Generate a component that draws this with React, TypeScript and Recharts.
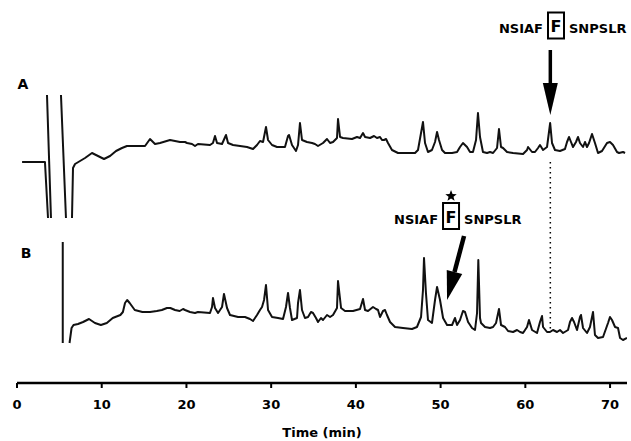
import { LineChart, Line, XAxis, YAxis, ReferenceLine, ReferenceDot } from "recharts";

// Trace A: native peptide digest (null = pen off scale)
const timeA = [
  0.6, 3.3, 3.66, 3.6, 3.54, 4.01, 4.5, 5.19, 5.78, 6.2,
  6.49, 6.61, 6.85, 7.44, 8.03, 8.85, 9.56, 10.27, 10.98, 11.69, 12.39, 12.98, 15.11, 15.7,
  16.29, 16.88, 18.06, 18.65, 19.24, 19.83, 20.07, 20.66, 21.01, 21.36, 22.78, 23.13, 23.37,
  23.61, 24.2, 24.67, 24.91, 25.5, 27.15, 27.86, 28.33, 28.68, 29.04, 29.39, 29.63, 30.1,
  30.69, 31.63, 31.99, 32.11, 32.46, 32.93, 33.17, 33.4, 33.64, 34.23, 34.82, 35.17, 35.53,
  36.12, 36.59, 36.95, 37.3, 37.77, 37.89, 38.13, 38.48, 39.54, 40.13, 40.49, 40.84, 41.08,
  41.67, 42.14, 42.49, 42.85, 43.08, 43.32, 43.56, 43.79, 44.26, 44.97, 46.15, 46.98, 47.33,
  47.92, 48.16, 48.51, 48.98, 49.34, 49.58, 49.81, 50.17, 50.52, 51.35, 51.94, 52.29, 52.64,
  53.12, 53.47, 53.82, 54.18, 54.41, 54.65, 55.0, 55.48, 55.83, 56.19, 56.66, 56.89, 57.13,
  57.37, 57.84, 58.55, 59.73, 60.2, 60.32, 60.79, 61.14, 61.5, 61.73, 62.09, 62.56, 62.93,
  63.15, 63.5, 64.09, 64.68, 64.92, 65.16, 65.39, 65.63, 65.98, 66.22, 66.45, 66.81, 67.04,
  67.28, 67.52, 67.87, 68.22, 68.58, 69.05, 69.64, 69.99, 70.35, 70.82, 71.06, 71.53, 71.77,
];
const signalA = [
  221, 221, 165, null, 288, 165, null, 288, 165, null,
  165, 215, 219, 222, 225, 230, 227, 224, 227, 232, 235, 237, 237, 244,
  239, 240, 243, 242, 241, 241, 240, 239, 237, 239, 238, 240, 247,
  240, 239, 248, 240, 238, 236, 234, 238, 242, 241, 256, 243, 238,
  236, 236, 247, 248, 238, 232, 238, 260, 243, 241, 240, 239, 237,
  240, 244, 240, 241, 245, 264, 246, 245, 244, 246, 245, 250, 246,
  245, 247, 245, 246, 243, 243, 244, 240, 233, 230, 230, 230, 233,
  261, 240, 231, 233, 241, 251, 243, 233, 230, 230, 231, 236, 240,
  236, 231, 231, 243, 270, 246, 231, 230, 231, 230, 235, 254, 236,
  235, 231, 230, 229, 233, 236, 231, 231, 235, 238, 233, 236, 260,
  240, 233, 232, 234, 241, 246, 241, 236, 241, 246, 240, 236, 241,
  236, 240, 249, 240, 230, 232, 240, 241, 238, 231, 230, 231, 230,
];

// Trace B: modified peptide digest
const timeB = [
  5.4, 5.4, 5.8,
  6.2, 6.44, 6.67, 7.2, 7.8, 8.5, 9.2, 9.9, 10.6, 11.3, 12.2, 12.5, 12.75, 13.0, 13.3, 13.9,
  14.8, 15.7, 16.5, 17.1, 17.7, 18.1, 18.65, 19.2, 19.6, 19.83, 20.42, 21.01, 21.36, 22.78,
  23.02, 23.13, 23.37, 23.73, 24.2, 24.43, 24.79, 25.14, 26.09, 26.91, 27.5, 27.86, 28.33,
  28.68, 28.92, 29.16, 29.39, 29.63, 30.1, 30.81, 31.4, 31.75, 31.99, 32.22, 32.46, 33.05,
  33.17, 33.4, 33.64, 33.99, 34.35, 34.7, 34.94, 35.29, 35.53, 35.88, 36.12, 36.59, 36.95,
  37.3, 37.77, 37.89, 38.25, 38.72, 39.66, 40.49, 40.84, 41.08, 41.43, 42.02, 42.38, 42.61,
  42.85, 43.2, 43.44, 43.67, 44.03, 44.62, 45.56, 46.62, 47.21, 47.69, 47.92, 48.04, 48.27,
  48.51, 48.98, 49.34, 49.58, 49.93, 50.29, 50.76, 51.35, 51.7, 51.94, 52.29, 52.64, 52.88,
  53.24, 53.71, 54.06, 54.3, 54.45, 54.65, 54.77, 55.24, 55.83, 56.19, 56.54, 56.89, 57.13,
  57.6, 57.96, 58.55, 59.02, 59.38, 59.73, 60.2, 60.43, 60.79, 61.38, 61.73, 61.97, 62.09,
  62.56, 62.91, 63.27, 63.74, 64.09, 64.45, 65.04, 65.27, 65.51, 65.75, 66.1, 66.45, 66.57,
  66.81, 67.28, 67.63, 67.99, 68.22, 68.58, 69.17, 69.76, 69.99, 70.23, 70.59, 70.94, 71.18,
  71.53, 72.0,
];
const signalB = [
  141, 40, null,
  40, 55, 58, 59, 61, 64, 60, 58, 60, 65, 68, 71, 80, 83, 80, 73,
  71, 71, 72, 73, 75, 75, 73, 72, 74, 73, 71, 70, 71, 70,
  76, 85, 75, 70, 76, 89, 75, 68, 66, 66, 64, 62, 68,
  73, 76, 83, 98, 73, 66, 65, 64, 76, 90, 75, 63, 65,
  80, 93, 73, 65, 66, 71, 70, 65, 61, 65, 63, 68, 66,
  68, 75, 102, 75, 72, 72, 74, 84, 73, 72, 76, 74, 73,
  66, 72, 73, 68, 61, 56, 55, 54, 56, 66, 93, 125, 90,
  63, 60, 83, 96, 83, 65, 58, 58, 65, 58, 63, 72, 71,
  61, 55, 53, 70, 123, 65, 60, 56, 55, 56, 60, 74, 58,
  56, 52, 51, 53, 51, 50, 56, 63, 53, 50, 61, 67, 56,
  51, 51, 53, 51, 53, 50, 53, 61, 65, 61, 53, 66, 68,
  55, 50, 56, 71, 48, 45, 46, 60, 66, 63, 56, 55, 45,
  43, 45,
];

const timeTicks = [0, 10, 20, 30, 40, 50, 60, 70];

const dataA = timeA.map((t, i) => ({ t, v: signalA[i] }));
const dataB = timeB.map((t, i) => ({ t, v: signalB[i] }));

const FONT = "'DejaVu Sans', sans-serif";

const arrow = (dx: number, dy: number, headLen: number, headW: number, shaftW: number) =>
  (props: any) => {
    const { cx, cy } = props;
    const len = Math.hypot(dx, dy);
    const ux = dx / len;
    const uy = dy / len;
    const bx = cx + ux * headLen;
    const by = cy + uy * headLen;
    const px = -uy * headW / 2;
    const py = ux * headW / 2;
    return (
      <g>
        <line x1={bx} y1={by} x2={cx + dx} y2={cy + dy} stroke="#000" strokeWidth={shaftW} />
        <polygon points={`${cx},${cy} ${bx + px},${by + py} ${bx - px},${by - py}`} fill="#000" />
      </g>
    );
  };

const star = (x: number, y: number, R: number, r: number) => {
  const pts: string[] = [];
  for (let k = 0; k < 10; k++) {
    const a = -Math.PI / 2 + (k * Math.PI) / 5;
    const rad = k % 2 === 0 ? R : r;
    pts.push(`${x + rad * Math.cos(a)},${y + rad * Math.sin(a)}`);
  }
  return pts.join(" ");
};

const peptide = (modified: boolean) => (props: any) => {
  const { cx, cy } = props;
  return (
    <g fontFamily={FONT} fontWeight="bold" fill="#000">
      <text x={cx - 13} y={cy + 7.5} fontSize={13} textAnchor="end">NSIAF</text>
      <rect x={cx - 8} y={cy - 13} width={16} height={26} fill="none" stroke="#000" strokeWidth={2} />
      <text x={cx} y={cy + 6.5} fontSize={16} textAnchor="middle">F</text>
      <text x={cx + 13} y={cy + 7.5} fontSize={13} textAnchor="start">SNPSLR</text>
      {modified && <polygon points={star(cx, cy - 20, 6, 2.6)} fill="#000" />}
    </g>
  );
};

const traceLabel = (name: string) => (props: any) => (
  <text x={props.cx} y={props.cy + 5} fontFamily={FONT} fontWeight="bold" fontSize={14} textAnchor="middle">
    {name}
  </text>
);

export default function App() {
  return (
    <div style={{ position: "absolute", left: 0, top: 0, width: 631, height: 441, background: "#fff" }}>
      <LineChart width={631} height={441} margin={{ top: 0, right: 4, left: 17, bottom: 0 }}>
        <XAxis
          type="number"
          dataKey="t"
          domain={[0, 72]}
          ticks={timeTicks}
          allowDataOverflow
          height={58}
          tickSize={5}
          tickMargin={12}
          axisLine={{ stroke: "#000", strokeWidth: 2.5 }}
          tickLine={{ stroke: "#000", strokeWidth: 2 }}
          tick={{ fontSize: 13, fontWeight: "bold", fontFamily: FONT, fill: "#000" }}
          label={{
            value: "Time (min)",
            position: "insideBottom",
            offset: 4,
            style: { fontSize: 13, fontWeight: "bold", fontFamily: FONT, fill: "#000" },
          }}
        />
        <YAxis type="number" domain={[0, 383]} hide allowDataOverflow />
        <ReferenceLine
          segment={[{ x: 62.95, y: 221 }, { x: 62.95, y: 53 }]}
          stroke="#000"
          strokeWidth={1.5}
          strokeDasharray="1.5 3.5"
        />
        <Line data={dataA} dataKey="v" type="linear" stroke="#111" strokeWidth={2} strokeLinejoin="round" dot={false} isAnimationActive={false} />
        <Line data={dataB} dataKey="v" type="linear" stroke="#111" strokeWidth={2} strokeLinejoin="round" dot={false} isAnimationActive={false} />
        <ReferenceDot x={0.71} y={299} ifOverflow="visible" shape={traceLabel("A")} />
        <ReferenceDot x={1.06} y={130} ifOverflow="visible" shape={traceLabel("B")} />
        <ReferenceDot x={63.62} y={357.5} ifOverflow="visible" shape={peptide(false)} />
        <ReferenceDot x={51.23} y={167} ifOverflow="visible" shape={peptide(true)} />
        <ReferenceDot x={62.95} y={268} ifOverflow="visible" shape={arrow(0, -65, 32, 15, 3.5)} />
        <ReferenceDot x={50.76} y={83} ifOverflow="visible" shape={arrow(17, -64, 29, 16, 4.5)} />
      </LineChart>
    </div>
  );
}
